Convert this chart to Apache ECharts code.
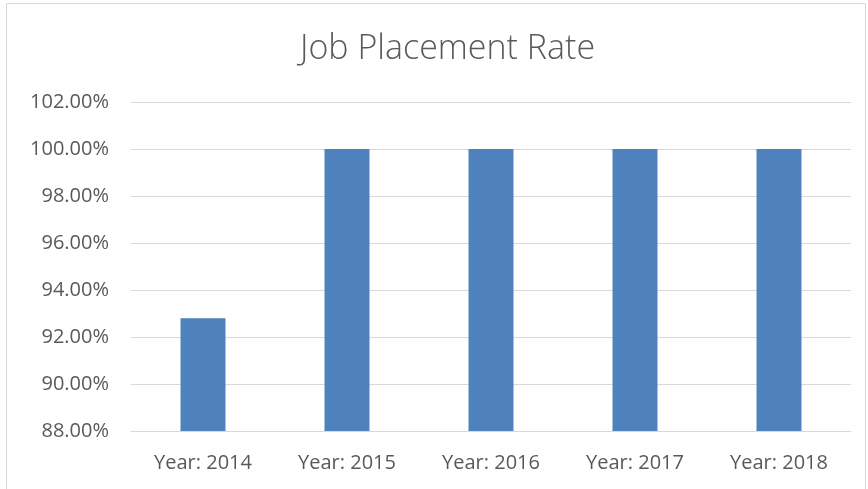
<!DOCTYPE html>
<html>
<head>
<meta charset="utf-8">
<script src="https://cdn.jsdelivr.net/npm/echarts@6/dist/echarts.min.js"></script>
<style>
    html, body { margin: 0; padding: 0; background: #fff; }
    #chart { width: 868px; height: 489px; }
</style>
</head>
<body>
<div id="chart"></div>
<script>
var categories = ["Year: 2014", "Year: 2015", "Year: 2016", "Year: 2017", "Year: 2018"];
var rates = [0.928, 1.0, 1.0, 1.0, 1.0];

var c = echarts.init(document.getElementById("chart"));

var option = {
    textStyle: {
        fontFamily: "'Open Sans', 'Noto Sans', sans-serif"
    },
    title: {
        text: "Job Placement Rate",
        left: 295,
        top: 27,
        textStyle: {
            fontSize: 34,
            fontWeight: 300,
            color: "#595959",
            fontFamily: "'Open Sans', sans-serif"
        }
    },
    graphic: [{
        type: "rect",
        shape: { x: 6.5, y: 3.5, width: 859, height: 500 },
        style: { fill: "none", stroke: "#d9d9d9", lineWidth: 1 },
        silent: true
    }],
    grid: {
        left: 131,
        right: 17,
        top: 102,
        bottom: 58
    },
    xAxis: {
        type: "category",
        data: categories,
        axisTick: { show: false },
        axisLine: { lineStyle: { color: "#d9d9d9", width: 1 } },
        axisLabel: {
            fontSize: 20,
            color: "#595959",
            margin: 22
        }
    },
    yAxis: {
        type: "value",
        min: 0.88,
        max: 1.02,
        interval: 0.02,
        axisLine: { show: false },
        axisTick: { show: false },
        splitLine: { lineStyle: { color: "#d9d9d9", width: 1 } },
        axisLabel: {
            fontSize: 20,
            color: "#595959",
            margin: 22,
            formatter: function (v) {
                return (v * 100).toFixed(2) + "%";
            }
        }
    },
    series: [{
        type: "bar",
        data: rates,
        barWidth: 45,
        itemStyle: { color: "#4f81bd" }
    }],
    animation: false
};

c.setOption(option);
</script>
</body>
</html>
